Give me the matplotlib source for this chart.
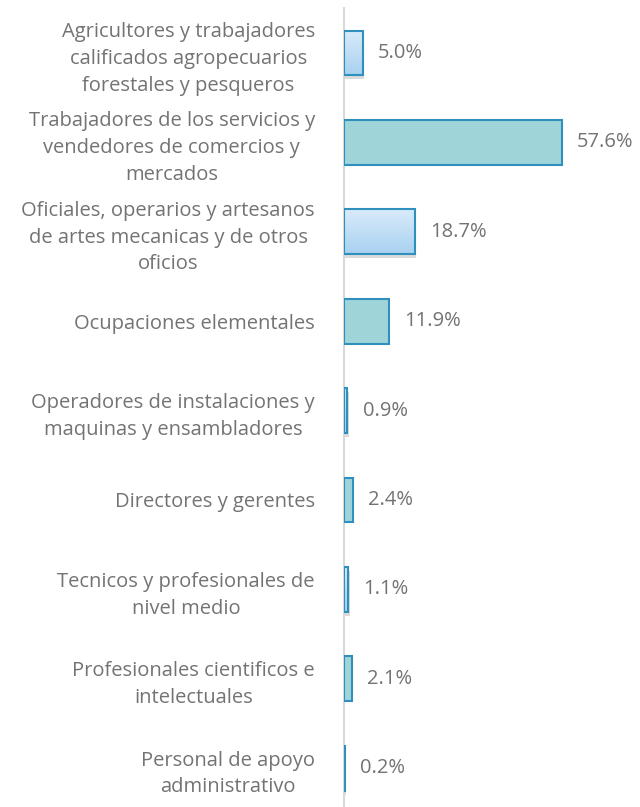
import matplotlib.pyplot as plt
import matplotlib.patheffects as pe
import numpy as np

categories = [
    "Agricultores y trabajadores\ncalificados agropecuarios\nforestales y pesqueros",
    "Trabajadores de los servicios y\nvendedores de comercios y\nmercados",
    "Oficiales, operarios y artesanos\nde artes mecanicas y de otros\noficios",
    "Ocupaciones elementales",
    "Operadores de instalaciones y\nmaquinas y ensambladores",
    "Directores y gerentes",
    "Tecnicos y profesionales de\nnivel medio",
    "Profesionales cientificos e\nintelectuales",
    "Personal de apoyo\nadministrativo",
]
values = [5.0, 57.6, 18.7, 11.9, 0.9, 2.4, 1.1, 2.1, 0.2]

plt.rcParams['font.family'] = ['Open Sans', 'DejaVu Sans']
text_color = '#737373'
edge = '#2f8fbd'
teal = '#9fd4d8'

fig = plt.figure(figsize=(6.4, 8.07), dpi=100)
ax = fig.add_axes([344 / 640, 0.0, 1 - 344 / 640, 1 - 8 / 807])

y = np.arange(len(values))
grad = np.linspace(0, 1, 50).reshape(-1, 1)
top_c = np.array([0.85, 0.92, 0.98])
bot_c = np.array([0.66, 0.82, 0.94])
grad_img = top_c + (bot_c - top_c) * grad[:, :, None] * np.ones((1, 1, 3))

for i, v in enumerate(values):
    if i % 2 == 0:
        bar = ax.barh(y[i], v, height=0.5, color='none', edgecolor=edge,
                      linewidth=1.5, zorder=3)[0]
        shadow = ax.barh(y[i], v, height=0.5, color='white', edgecolor='none', zorder=2)[0]
        shadow.set_path_effects([pe.SimplePatchShadow(offset=(1, -3), shadow_rgbFace='#888888', alpha=0.3)])
        im = ax.imshow(grad_img, extent=(0, v, y[i] + 0.25, y[i] - 0.25),
                       aspect='auto', zorder=2.5)
        im.set_clip_path(bar)
    else:
        ax.barh(y[i], v, height=0.5, color=teal, edgecolor=edge,
                linewidth=1.5, zorder=3)
    ax.text(v + 4, y[i], f"{v:.1f}%", va='center', ha='left',
            fontsize=14.5, color=text_color)

ax.set_ylim(8.434, -0.503)
ax.set_xlim(0, 78.2)
ax.set_yticks(y)
ax.set_yticklabels(categories, fontsize=14.5, color=text_color,
                   multialignment='center', linespacing=1.45)
ax.tick_params(axis='y', length=0, pad=21)
ax.set_xticks([])
for s in ['top', 'right', 'bottom']:
    ax.spines[s].set_visible(False)
ax.spines['left'].set_color('#d9d9d9')
ax.spines['left'].set_linewidth(1.5)
ax.patch.set_alpha(0)

fig.savefig('out.png', dpi=100)
